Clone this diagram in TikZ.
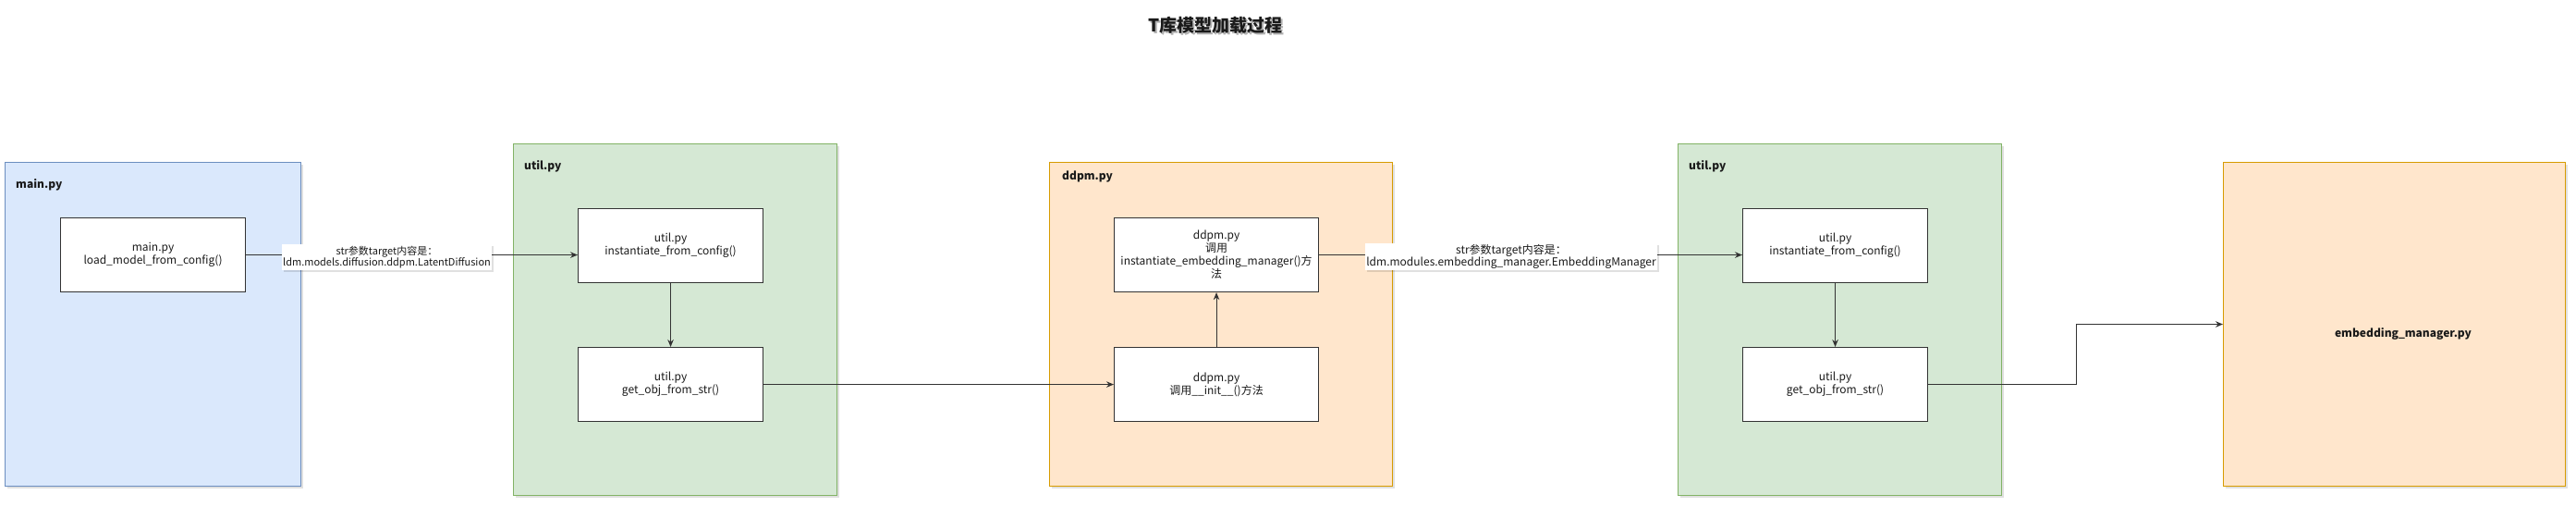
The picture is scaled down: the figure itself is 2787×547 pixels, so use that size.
\documentclass[tikz,border=0pt]{standalone}
\usepackage{fontspec}
\setmainfont{Noto Sans CJK SC}
\usetikzlibrary{arrows.meta,shadows}
\definecolor{blueF}{HTML}{DAE8FC}
\definecolor{blueD}{HTML}{6C8EBF}
\definecolor{greenF}{HTML}{D5E8D4}
\definecolor{greenD}{HTML}{82B366}
\definecolor{orangeF}{HTML}{FFE6CC}
\definecolor{orangeD}{HTML}{D79B00}
\definecolor{lineC}{HTML}{333333}
\definecolor{txtC}{HTML}{1A1A1A}
\begin{document}
\begin{tikzpicture}[x=1pt,y=-1pt,
  container/.style={draw, line width=1pt, inner sep=0pt, anchor=north west,
    drop shadow={shadow xshift=2.5pt, shadow yshift=-2.5pt, fill=black, opacity=0.12}},
  clabel/.style={anchor=west, inner sep=0pt, text=txtC, font=\bfseries\fontsize{12}{14}\selectfont},
  fbox/.style={draw=lineC, fill=white, line width=1.1pt, anchor=north west, align=center,
    text=txtC, font=\fontsize{12}{14}\selectfont},
  conn/.style={draw=lineC, line width=1.1pt, -{Stealth[length=8pt,width=6.5pt]}},
  elabel/.style={fill=white, inner xsep=1.5pt, inner ysep=1.5pt, align=center, text=txtC,
    drop shadow={shadow xshift=2pt, shadow yshift=-2pt, fill=black, opacity=0.12}}
]
\useasboundingbox (0,0) rectangle (2787,547);

% title
\node[font=\bfseries\fontsize{19}{22}\selectfont, text=black!30] (titleShadow) at (1317,29.5) {T库模型加载过程};
\node[font=\bfseries\fontsize{19}{22}\selectfont, text=txtC] (title) at (1315,27) {T库模型加载过程};

% containers
\node[container, fill=blueF, draw=blueD, minimum width=320pt, minimum height=350pt] (mainC) at (5,175) {};
\node[clabel] (mainL) at (17,200) {main.py};

\node[container, fill=greenF, draw=greenD, minimum width=350pt, minimum height=380pt] (utilC) at (555,155) {};
\node[clabel] (utilL) at (567,180) {util.py};

\node[container, fill=orangeF, draw=orangeD, minimum width=371pt, minimum height=350pt] (ddpmC) at (1135,175) {};
\node[clabel] (ddpmL) at (1149,191) {ddpm.py};

\node[container, fill=greenF, draw=greenD, minimum width=350pt, minimum height=380pt] (util2C) at (1815,155) {};
\node[clabel] (util2L) at (1827,180) {util.py};

\node[container, fill=orangeF, draw=orangeD, minimum width=370pt, minimum height=350pt] (embC) at (2405,175) {};
\node[font=\bfseries\fontsize{12}{14}\selectfont, text=txtC] (embL) at (2600,361) {embedding\_manager.py};

% inner boxes
\node[fbox, minimum width=200pt, minimum height=80pt] (mainBox) at (65,235) {main.py\\load\_model\_from\_config()};
\node[fbox, minimum width=200pt, minimum height=80pt] (uInst) at (625,225) {util.py\\instantiate\_from\_config()};
\node[fbox, minimum width=200pt, minimum height=80pt] (uGet) at (625,375) {util.py\\get\_obj\_from\_str()};
\node[fbox, minimum width=221pt, minimum height=80pt] (dInst) at (1205,235) {ddpm.py\\调用\\instantiate\_embedding\_manager()方\\法};
\node[fbox, minimum width=221pt, minimum height=80pt] (dInit) at (1205,375) {ddpm.py\\调用\_\_init\_\_()方法};
\node[fbox, minimum width=200pt, minimum height=80pt] (u2Inst) at (1885,225) {util.py\\instantiate\_from\_config()};
\node[fbox, minimum width=200pt, minimum height=80pt] (u2Get) at (1885,375) {util.py\\get\_obj\_from\_str()};

% connectors
\draw[conn] (mainBox.east) -- (uInst.west |- mainBox.east);
\draw[conn] (uInst.south) -- (uGet.north);
\draw[conn] (uGet.east) -- (dInit.west);
\draw[conn] (dInit.north) -- (dInst.south);
\draw[conn] (dInst.east) -- (u2Inst.west |- dInst.east);
\draw[conn] (u2Inst.south) -- (u2Get.north);
\draw[conn] (u2Get.east) -- ++(160,0) |- (embC.west);

% edge labels
\node[elabel, font=\fontsize{11}{12.5}\selectfont] (lab1) at (418.5,278) {str参数target内容是：\\ldm.models.diffusion.ddpm.LatentDiffusion};
\node[elabel, font=\fontsize{12}{13.5}\selectfont] (lab2) at (1635,277.5) {str参数target内容是：\\ldm.modules.embedding\_manager.EmbeddingManager};
\end{tikzpicture}
\end{document}
